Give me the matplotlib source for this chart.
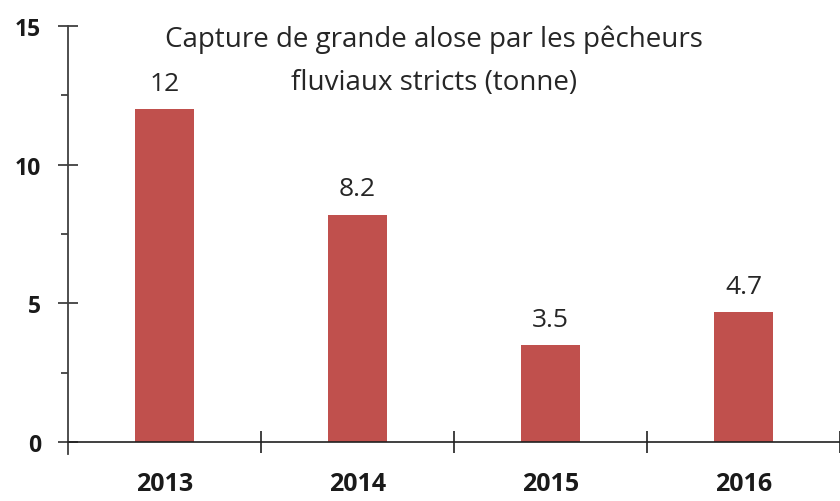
import numpy as np
import matplotlib.pyplot as plt
from matplotlib.ticker import MultipleLocator

years = ['2013', '2014', '2015', '2016']
captures = [12, 8.2, 3.5, 4.7]
value_labels = ['12', '8.2', '3.5', '4.7']
title_lines = ['Capture de grande alose par les pêcheurs',
               'fluviaux stricts (tonne)']

plt.rcParams['font.family'] = ['Open Sans', 'DejaVu Sans']

W, H = 840, 502
fig = plt.figure(figsize=(W / 100, H / 100), dpi=100)
ax = fig.add_axes([68 / W, 1 - 443 / H, 772 / W, 416 / H])

x = np.arange(len(years))
ax.bar(x, captures, width=0.31, color='#C0504D', zorder=2)

# value written just above each bar
for xi, v, lab in zip(x, captures, value_labels):
    ax.text(xi, v + 0.69, lab, ha='center', va='baseline', fontsize=19,
            color='#262626')

# two-line title inside the plot area
for line, base_y in zip(title_lines, [47, 90]):
    fig.text(434 / W, 1 - base_y / H, line, ha='center', va='baseline',
             fontsize=20, color='#262626')

ax.set_xlim(-0.5, 3.48)
ax.set_ylim(0, 15)

for s in ['top', 'right']:
    ax.spines[s].set_visible(False)
ax.spines['left'].set_bounds(-0.43, 15)
ax.spines['left'].set_color('#404040')
ax.spines['left'].set_linewidth(1.3)
ax.spines['bottom'].set_color('#202020')
ax.spines['bottom'].set_linewidth(1.2)

ax.yaxis.set_major_locator(MultipleLocator(5))
ax.yaxis.set_minor_locator(MultipleLocator(2.5))
ax.tick_params(axis='y', which='major', direction='inout', length=14.5, width=1.3,
               labelsize=16.5, pad=12, color='#404040', labelcolor='#1a1a1a')
ax.tick_params(axis='y', which='minor', direction='out', length=5, width=1.3,
               color='#404040')
for lab in ax.get_yticklabels():
    lab.set_fontweight('bold')

# category ticks sit on the boundaries between bars
ax.set_xticks(x + 0.5, minor=False)
ax.set_xticklabels([])
ax.set_xticks(x, minor=True)
ax.set_xticklabels(years, minor=True, fontsize=18, fontweight='bold',
                   color='#1a1a1a')
ax.tick_params(axis='x', which='major', direction='inout', length=16, width=1.2,
               color='#202020')
ax.tick_params(axis='x', which='minor', length=0, pad=21)

fig.savefig('out.png', dpi=100, facecolor='white')
